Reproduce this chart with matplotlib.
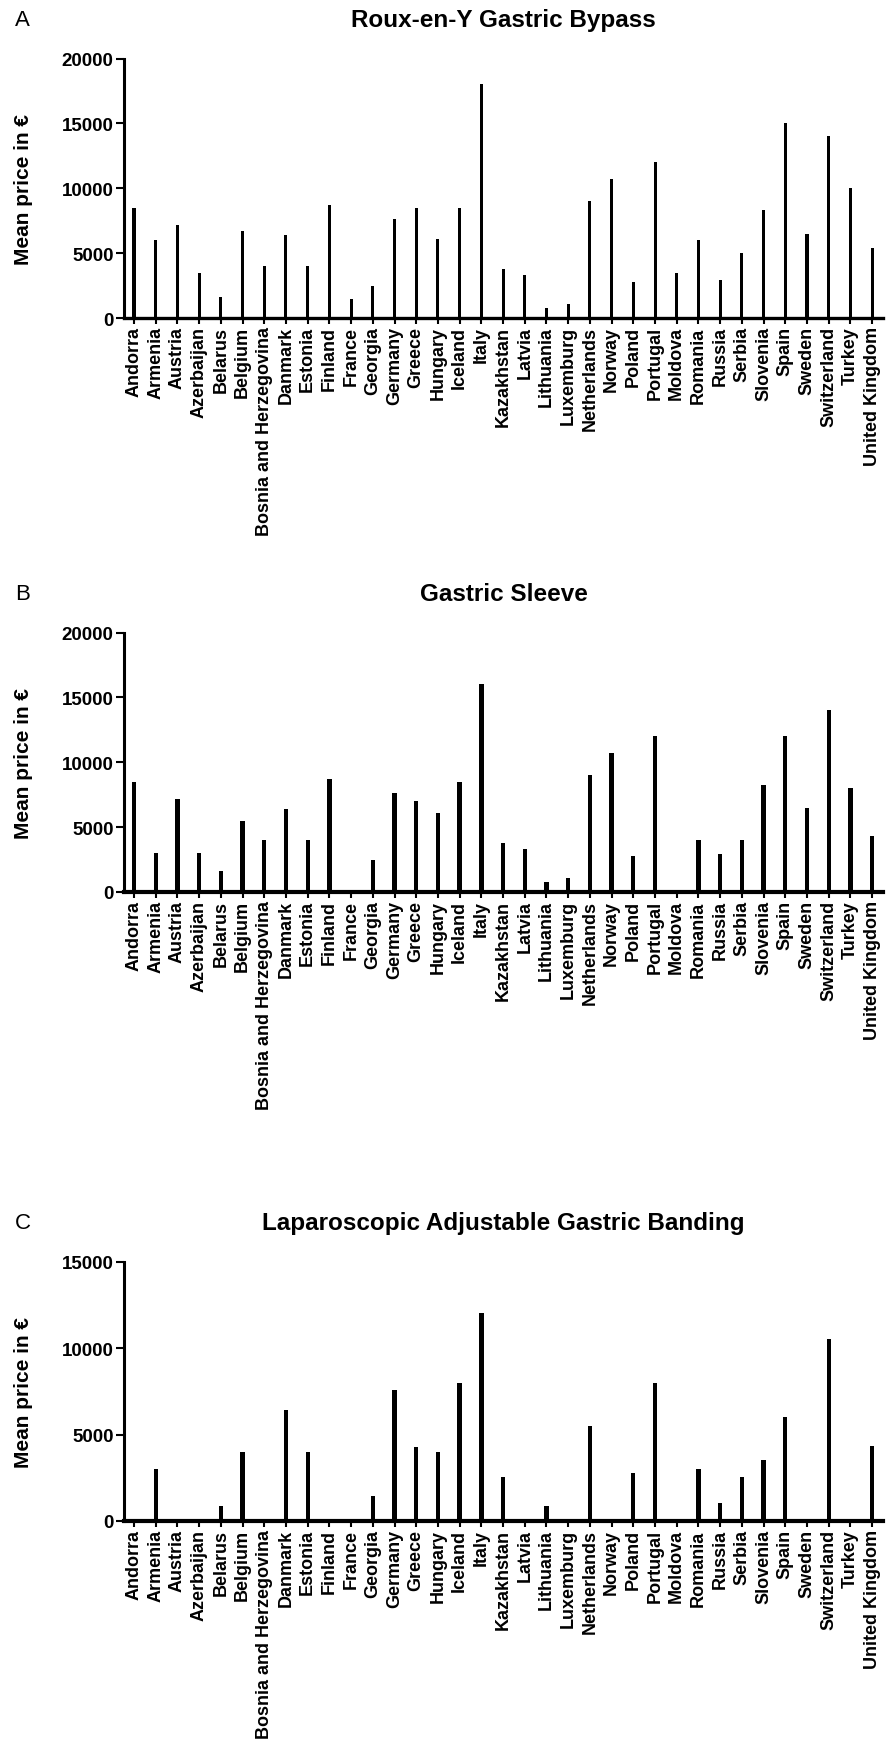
import matplotlib.pyplot as plt
import numpy as np

plt.rcParams['font.family'] = ['Liberation Sans', 'DejaVu Sans']

countries = ['Andorra', 'Armenia', 'Austria', 'Azerbaijan', 'Belarus', 'Belgium',
	'Bosnia and Herzegovina', 'Danmark', 'Estonia', 'Finland', 'France', 'Georgia',
	'Germany', 'Greece', 'Hungary', 'Iceland', 'Italy', 'Kazakhstan', 'Latvia',
	'Lithuania', 'Luxemburg', 'Netherlands', 'Norway', 'Poland', 'Portugal',
	'Moldova', 'Romania', 'Russia', 'Serbia', 'Slovenia', 'Spain', 'Sweden',
	'Switzerland', 'Turkey', 'United Kingdom']

# mean price in euro per country
bypass_prices = [8500, 6000, 7200, 3500, 1600, 6700, 4000, 6400, 4000, 8700,
	1500, 2500, 7600, 8500, 6100, 8500, 18000, 3800, 3300, 800, 1100, 9000,
	10750, 2800, 12000, 3500, 6000, 2900, 5000, 8300, 15000, 6500, 14000,
	10000, 5400]
sleeve_prices = [8500, 3000, 7200, 3000, 1600, 5500, 4000, 6400, 4000, 8700,
	0, 2500, 7600, 7000, 6100, 8500, 16000, 3800, 3300, 800, 1100, 9000,
	10750, 2800, 12000, 0, 4000, 2900, 4000, 8250, 12000, 6500, 14000,
	8000, 4350]
banding_prices = [0, 3000, 0, 0, 850, 4000, 0, 6400, 4000, 0,
	0, 1450, 7600, 4250, 4000, 8000, 12000, 2550, 0, 850, 0, 5500,
	0, 2800, 8000, 0, 3000, 1050, 2550, 3500, 6000, 0, 10500,
	0, 4350]

fig = plt.figure(figsize=(8.92, 17.65), dpi=100)

def draw_panel(bottom, prices, title, letter, ymax, bar_width, axis_width):
	ax = fig.add_axes([124 / 892, bottom, 759 / 892, 259.5 / 1765])
	x = np.arange(len(countries))
	ax.bar(x, prices, bar_width, color='black', zorder=2)

	ax.set_xlim(-0.46, len(countries) - 0.5)
	ax.set_ylim(0, ymax)
	ax.set_yticks(np.arange(0, ymax + 1, 5000))
	ax.set_xticks(x)
	ax.set_xticklabels(countries, rotation=90, fontsize=13, fontweight='bold')
	for lab in ax.get_yticklabels():
		lab.set_fontsize(13.5)
		lab.set_fontweight('bold')

	ax.spines['top'].set_visible(False)
	ax.spines['right'].set_visible(False)
	ax.spines['left'].set_linewidth(2.2)
	ax.spines['bottom'].set_linewidth(axis_width)
	ax.spines['bottom'].set_zorder(3)
	ax.tick_params(axis='y', length=6, width=1.5, pad=1.5)
	ax.tick_params(axis='x', length=4.5, width=1.5, pad=1.5)

	ax.set_ylabel('Mean price in €', fontsize=15, fontweight='bold')
	ax.yaxis.set_label_coords(-0.12, 0.5)

	ax.text(0.5, 1.15, title, transform=ax.transAxes, ha='center', va='center',
		fontsize=17.5, fontweight='bold')
	top_px = 1765 * (1 - bottom - 259.5 / 1765)
	fig.text(15 / 892, 1 - (top_px - 39) / 1765, letter, ha='left', va='center',
		fontsize=16)
	return ax

draw_panel(1 - 319 / 1765, bypass_prices, 'Roux-en-Y Gastric Bypass', 'A', 20000, 0.14, 2.4)
draw_panel(1 - 893 / 1765, sleeve_prices, 'Gastric Sleeve', 'B', 20000, 0.2, 3.0)
draw_panel(1 - 1522 / 1765, banding_prices, 'Laparoscopic Adjustable Gastric Banding', 'C', 15000, 0.2, 3.0)

plt.savefig('out.png', dpi=100)
